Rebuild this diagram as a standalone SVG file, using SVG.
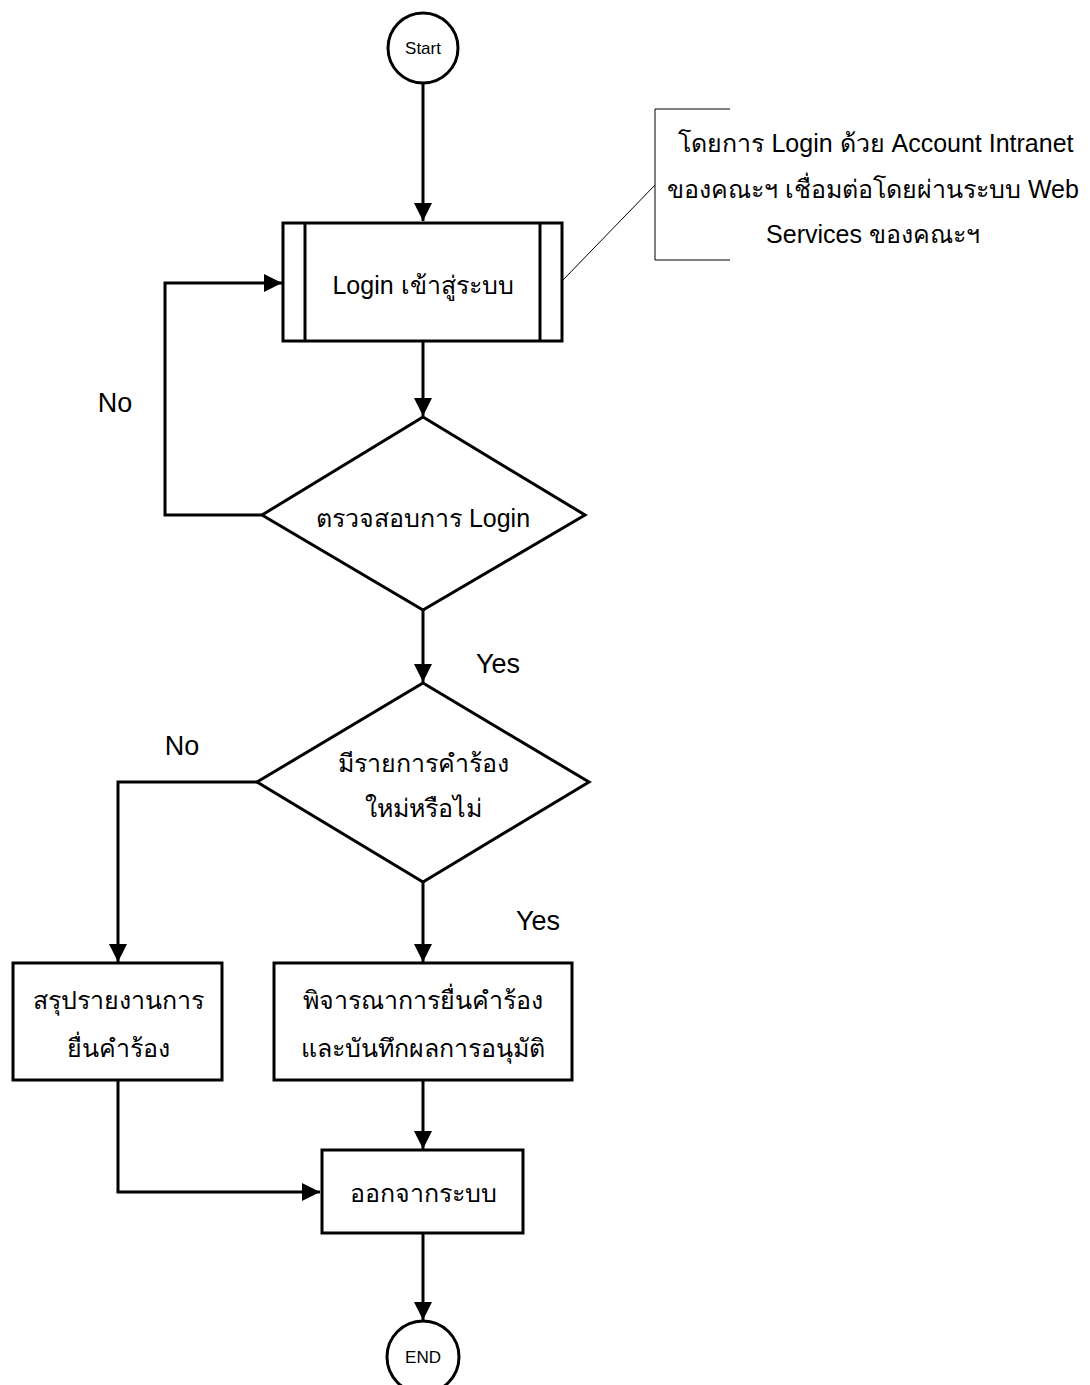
<svg xmlns="http://www.w3.org/2000/svg" width="1090" height="1385" viewBox="0 0 1090 1385">
<defs>
<marker id="arr" markerWidth="6" markerHeight="6" refX="6" refY="3" orient="auto" markerUnits="strokeWidth">
<path d="M0,0 L6,3 L0,6 Z" fill="#000"/>
</marker>
<style>
.shape{fill:#fff;stroke:#000;stroke-width:3}
.conn{fill:none;stroke:#000;stroke-width:3}
.thin{fill:none;stroke:#000;stroke-width:1}
text{font-family:"Liberation Sans","Noto Sans",sans-serif;fill:#000;text-anchor:middle}
.th{font-size:25px}
.lbl{font-size:27px}
.sm{font-size:17px}
</style>
</defs>
<rect width="1090" height="1385" fill="#fff"/>
<g id="connectors">
<line class="conn" x1="423" y1="84" x2="423" y2="221" marker-end="url(#arr)"/>
<line class="conn" x1="423" y1="341" x2="423" y2="416" marker-end="url(#arr)"/>
<polyline class="conn" points="262,515 165,515 165,283 282,283" marker-end="url(#arr)"/>
<line class="conn" x1="423" y1="610" x2="423" y2="682" marker-end="url(#arr)"/>
<polyline class="conn" points="257,782 118,782 118,962" marker-end="url(#arr)"/>
<line class="conn" x1="423" y1="882" x2="423" y2="962" marker-end="url(#arr)"/>
<line class="conn" x1="423" y1="1080" x2="423" y2="1149" marker-end="url(#arr)"/>
<polyline class="conn" points="118,1080 118,1192 320,1192" marker-end="url(#arr)"/>
<line class="conn" x1="423" y1="1233" x2="423" y2="1320" marker-end="url(#arr)"/>
<line class="thin" x1="563" y1="280" x2="655" y2="185"/>
</g>
<g id="start">
<circle class="shape" cx="423" cy="48" r="35"/>
<text class="sm" x="423" y="54">Start</text>
</g>
<g id="note">
<polyline class="thin" points="730,109 655,109 655,260 730,260"/>
<text class="th" x="876" y="152">โดยการ Login ด้วย Account Intranet</text>
<text class="th" x="873" y="198">ของคณะฯ เชื่อมต่อโดยผ่านระบบ Web</text>
<text class="th" x="873" y="243">Services ของคณะฯ</text>
</g>
<g id="login">
<rect class="shape" x="283" y="223" width="279" height="118"/>
<line class="conn" x1="305" y1="223" x2="305" y2="341"/>
<line class="conn" x1="540" y1="223" x2="540" y2="341"/>
<text class="th" x="423" y="294">Login เข้าสู่ระบบ</text>
</g>
<g id="check">
<polygon class="shape" points="423,417 585,515 423,610 262,515"/>
<text class="th" x="423" y="527">ตรวจสอบการ Login</text>
</g>
<g id="newreq">
<polygon class="shape" points="423,683 589,782 423,882 257,782"/>
<text class="th" x="423" y="772">มีรายการคำร้อง</text>
<text class="th" x="423" y="817">ใหม่หรือไม่</text>
</g>
<g id="summary">
<rect class="shape" x="13" y="963" width="209" height="117"/>
<text class="th" x="118" y="1009">สรุปรายงานการ</text>
<text class="th" x="118" y="1057">ยื่นคำร้อง</text>
</g>
<g id="consider">
<rect class="shape" x="274" y="963" width="298" height="117"/>
<text class="th" x="423" y="1009">พิจารณาการยื่นคำร้อง</text>
<text class="th" x="423" y="1057">และบันทึกผลการอนุมัติ</text>
</g>
<g id="logout">
<rect class="shape" x="322" y="1150" width="201" height="83"/>
<text class="th" x="423" y="1202">ออกจากระบบ</text>
</g>
<g id="end">
<circle class="shape" cx="423" cy="1357" r="36"/>
<text class="sm" x="423" y="1363">END</text>
</g>
<g id="labels">
<text class="lbl" x="115" y="412">No</text>
<text class="lbl" x="498" y="673">Yes</text>
<text class="lbl" x="182" y="755">No</text>
<text class="lbl" x="538" y="930">Yes</text>
</g>
</svg>
